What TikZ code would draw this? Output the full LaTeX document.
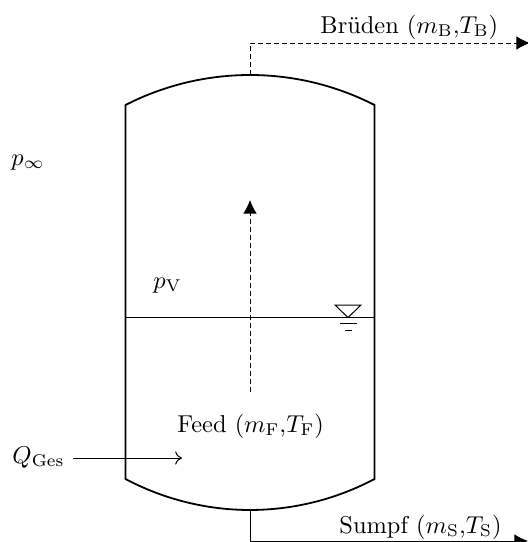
\documentclass[tikz,border=0pt]{standalone}
\usetikzlibrary{arrows.meta}
\tikzset{
  vessel/.style={line width=0.9pt},
  flow/.style={line width=0.45pt,-{Latex[length=6.8pt,width=6.8pt]}},
  flowdash/.style={flow,dash pattern=on 2.4pt off 1.6pt},
  thinline/.style={line width=0.5pt},
  lab/.style={inner sep=0pt,anchor=base west,scale=1.22}
}
\begin{document}
\begin{tikzpicture}[x=0.5pt,y=-0.5pt]
\useasboundingbox (0,0) rectangle (527,542);
\coordinate (tl) at (125.5,105);
\coordinate (tr) at (374.5,105);
\coordinate (bl) at (125.5,479);
\coordinate (br) at (374.5,479);
\coordinate (top) at (250,75);
\coordinate (bot) at (250,510);
\coordinate (bend1) at (250,43);
\coordinate (out1) at (530,43);
\coordinate (bend2) at (250,541);
\coordinate (out2) at (528,541);
\coordinate (riseS) at (250,392);
\coordinate (riseE) at (250,200);
\coordinate (heatS) at (73,458);
\coordinate (heatE) at (182,458);
\coordinate (lvlL) at (125.5,317.5);
\coordinate (lvlR) at (374.5,317.5);
\coordinate (t1) at (335,305);
\coordinate (t2) at (361,305);
\coordinate (t3) at (348,317.5);
\coordinate (u1) at (340,323.5);
\coordinate (u2) at (357,323.5);
\coordinate (v1) at (345,330);
\coordinate (v2) at (352,330);
% connectors
\draw[flowdash] (top) -- (bend1) -- (out1);
\draw[flow] (bot) -- (bend2) -- (out2);
\draw[flowdash] (riseS) -- (riseE);
\draw[thinline,-{To[length=3.4pt,width=6.6pt]}] (heatS) -- (heatE);
% body
\draw[vessel] (tl) .. controls (203.7,65) and (296.3,65) .. (tr) -- (br)
  .. controls (296.3,520.3) and (203.7,520.3) .. (bl) -- cycle;
\draw[thinline] (lvlL) -- (lvlR);
\draw[thinline] (t1) -- (t2) -- (t3) -- cycle;
\draw[thinline] (u1) -- (u2);
\draw[thinline] (v1) -- (v2);
% labels
\node[lab] (bruden) at (320,33) {Brüden ($m_{\mathrm{B}}$,$T_{\mathrm{B}}$)};
\node[lab] (pinf) at (11,165) {$p_\infty$};
\node[lab] (pv) at (153,288) {$p_{\mathrm{V}}$};
\node[lab] (feed) at (177,432) {Feed ($m_{\mathrm{F}}$,$T_{\mathrm{F}}$)};
\node[lab] (qges) at (12,463) {$Q_{\mathrm{Ges}}$};
\node[lab] (sumpf) at (339,533) {Sumpf ($m_{\mathrm{S}}$,$T_{\mathrm{S}}$)};
\end{tikzpicture}
\end{document}
